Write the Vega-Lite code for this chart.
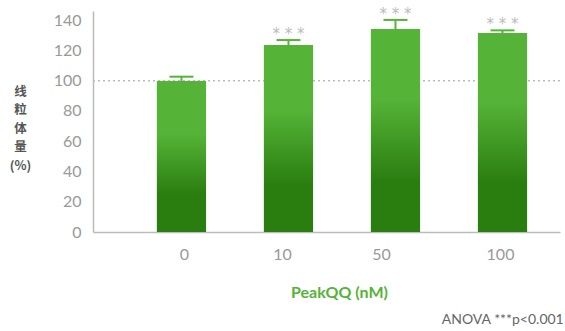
{
  "$schema": "https://vega.github.io/schema/vega-lite/v6.json",
  "width": 467,
  "height": 221,
  "autosize": "none",
  "padding": {"left": 93, "top": 11, "right": 5, "bottom": 99},
  "config": {"view": {"stroke": null}, "font": "Lato", "axisY": {"labelOverlap": false, "labelBound": false}},
  "title": {"text": "ANOVA ***p<0.001", "orient": "bottom", "anchor": "end", "fontSize": 14, "font": "Lato", "fontWeight": "normal", "color": "#666", "offset": 13, "dx": 3},
  "datasets": {
    "bars": [
      {"dose": "0", "mean": 99.7, "upper": 102.6, "sig": ""},
      {"dose": "10", "mean": 123.5, "upper": 126.8, "sig": "* * *"},
      {"dose": "50", "mean": 134.1, "upper": 140.1, "sig": "* * *"},
      {"dose": "100", "mean": 131.4, "upper": 133.2, "sig": "* * *"}
    ],
    "ref": [{"ref": 100}]
  },
  "layer": [
    {
      "data": {"name": "ref"},
      "mark": {"type": "rule", "color": "#bbbbbb", "strokeDash": [2, 3], "strokeWidth": 1.5},
      "encoding": {"y": {"field": "ref", "type": "quantitative", "scale": {"domain": [0, 146], "nice": false},
          "axis": {"values": [0, 20, 40, 60, 80, 100, 120, 140], "tickCount": 10, "labelOverlap": false, "grid": false, "ticks": false, "domainColor": "#bbbbbb", "domainWidth": 1.5, "labelColor": "#999999", "labelFontSize": 16, "labelFont": "Lato", "labelPadding": 12,
            "title": ["线", "粒", "体", "量", "(%)"], "titleAngle": 0, "titleFont": "Noto Sans CJK SC", "titleFontSize": 12.5, "titleFontWeight": "bold", "titleColor": "#555555", "titleLineHeight": 18.5, "titleX": -73, "titleY": 74, "titleAlign": "center", "titleBaseline": "top"}}}
    },
    {
      "data": {"name": "bars"},
      "mark": {"type": "bar", "color": {"gradient": "linear", "x1": 0, "y1": 0, "x2": 0, "y2": 1, "stops": [
        {"offset": 0, "color": "#55b337"}, {"offset": 0.35, "color": "#55b337"}, {"offset": 0.75, "color": "#2a7e10"}, {"offset": 1, "color": "#2a7e10"}]}},
      "encoding": {
        "x": {"field": "dose", "type": "nominal", "sort": null,
          "scale": {"paddingInner": 0.54, "paddingOuter": 0.452, "align": 0.66},
          "axis": {"labelAngle": 0, "domainColor": "#bbbbbb", "domainWidth": 1.5, "ticks": false, "labelColor": "#999999", "labelFontSize": 16, "labelFont": "Lato", "labelPadding": 14,
            "labelOffset": {"condition": [
              {"test": "datum.value == '0'", "value": 3},
              {"test": "datum.value == '10'", "value": -6},
              {"test": "datum.value == '50'", "value": -14},
              {"test": "datum.value == '100'", "value": -2}], "value": 0},
            "title": "PeakQQ (nM)", "titleColor": "#55b337", "titleFontSize": 16, "titleFont": "Lato", "titleFontWeight": "bold", "titlePadding": 22, "titleX": 246, "titleAnchor": "middle", "titleAlign": "center"}},
        "y": {"field": "mean", "type": "quantitative"}
      }
    },
    {
      "data": {"name": "bars"},
      "mark": {"type": "rule", "color": "#55b337", "strokeWidth": 2},
      "encoding": {
        "x": {"field": "dose", "type": "nominal", "sort": null},
        "y": {"field": "mean", "type": "quantitative"},
        "y2": {"field": "upper"}
      }
    },
    {
      "data": {"name": "bars"},
      "mark": {"type": "tick", "color": "#55b337", "thickness": 2, "size": 24, "orient": "horizontal", "opacity": 1},
      "encoding": {
        "x": {"field": "dose", "type": "nominal", "sort": null},
        "y": {"field": "upper", "type": "quantitative"}
      }
    },
    {
      "data": {"name": "bars"},
      "transform": [{"filter": "datum.sig != ''"}],
      "mark": {"type": "text", "color": "#bbbbbb", "fontSize": 15, "baseline": "middle", "dy": -6, "font": "DejaVu Sans"},
      "encoding": {
        "x": {"field": "dose", "type": "nominal", "sort": null},
        "y": {"field": "upper", "type": "quantitative"},
        "text": {"field": "sig"}
      }
    }
  ]
}
